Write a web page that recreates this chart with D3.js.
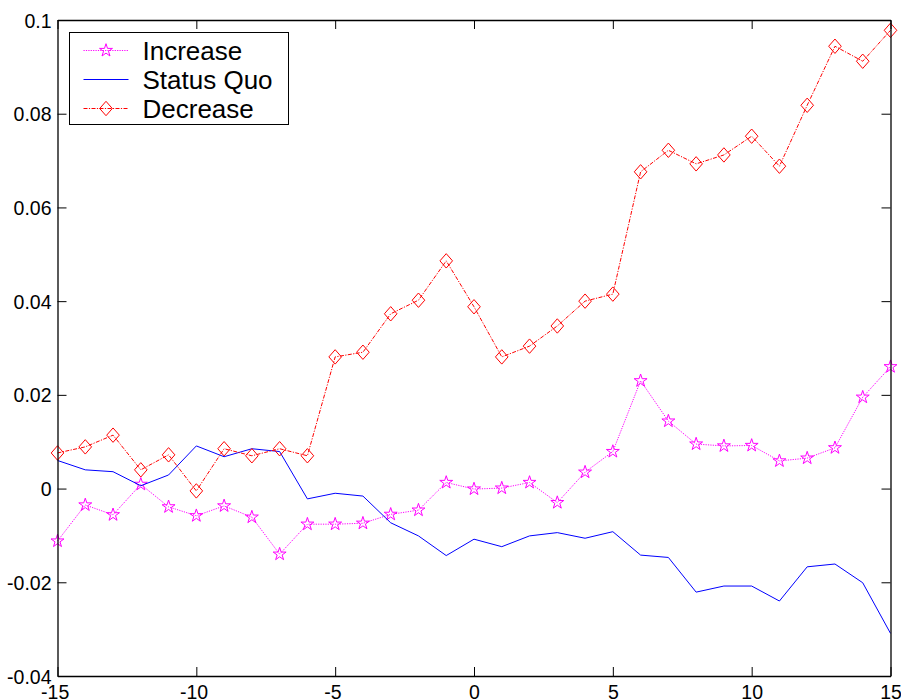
<!DOCTYPE html>
<html>
<head>
<meta charset="utf-8">
<script src="https://cdn.jsdelivr.net/npm/d3@7"></script>
<style>
  html, body { margin: 0; padding: 0; background: #fff; }
  svg { display: block; }
  text { font-family: "Liberation Sans", Arial, sans-serif; fill: #000; }
</style>
</head>
<body>
<svg id="chart" width="901" height="700"></svg>
<script>
// Event time (horizontal axis)
const lags = d3.range(-15, 16);

// Series values, one per lag
const increase = [
  -0.0112, -0.0035, -0.0056, 0.0009, -0.0039, -0.0058, -0.0037, -0.0061, -0.0140, -0.0076,
  -0.0076, -0.0074, -0.0055, -0.0046, 0.0013, -0.0001, 0.0001, 0.0013, -0.0030, 0.0035,
  0.0079, 0.0230, 0.0144, 0.0095, 0.0091, 0.0092, 0.0059, 0.0065, 0.0087, 0.0195, 0.0260
];
const statusQuo = [
  0.0060, 0.0040, 0.0036, 0.0006, 0.0029, 0.0091, 0.0068, 0.0085, 0.0079, -0.0022,
  -0.0010, -0.0016, -0.0073, -0.0101, -0.0143, -0.0108, -0.0124, -0.0101, -0.0094, -0.0106,
  -0.0092, -0.0142, -0.0147, -0.0221, -0.0208, -0.0208, -0.0240, -0.0167, -0.0161, -0.0201, -0.0309
];
const decrease = [
  0.0076, 0.0089, 0.0114, 0.0040, 0.0072, -0.0005, 0.0085, 0.0070, 0.0085, 0.0070,
  0.0281, 0.0291, 0.0373, 0.0402, 0.0486, 0.0388, 0.0281, 0.0304, 0.0347, 0.0400,
  0.0415, 0.0676, 0.0722, 0.0693, 0.0712, 0.0752, 0.0688, 0.0818, 0.0944, 0.0912, 0.0978
];

// Tick values and their labels
const xTicks = [-15, -10, -5, 0, 5, 10, 15];
const xTickLabels = ["-15", "-10", "-5", "0", "5", "10", "15"];
const yTicks = [-0.04, -0.02, 0, 0.02, 0.04, 0.06, 0.08, 0.1];
const yTickLabels = ["-0.04", "-0.02", "0", "0.02", "0.04", "0.06", "0.08", "0.1"];

const seriesNames = ["Increase", "Status Quo", "Decrease"];

const svg = d3.select("#chart");
const margin = { left: 57.5, right: 10.5, top: 20, bottom: 24 };
const W = 901, H = 700;
const x = d3.scaleLinear().domain([-15, 15]).range([margin.left, W - margin.right]);
const y = d3.scaleLinear().domain([-0.04, 0.1]).range([H - margin.bottom, margin.top]);

// Marker shapes
function pentagram(r) {
  const ri = r * 0.382;
  const pts = [];
  for (let i = 0; i < 10; i++) {
    const a = -Math.PI / 2 + i * Math.PI / 5;
    const rr = i % 2 === 0 ? r : ri;
    pts.push([rr * Math.cos(a), rr * Math.sin(a)]);
  }
  return "M" + pts.map(p => p[0].toFixed(2) + "," + p[1].toFixed(2)).join("L") + "Z";
}
function diamond(w, h) {
  return `M0,${-h}L${w},0L0,${h}L${-w},0Z`;
}

const styles = [
  { name: seriesNames[0], values: increase, color: "#ff00ff", dash: "1.2,1.2", marker: pentagram(6.8) },
  { name: seriesNames[1], values: statusQuo, color: "#0000ff", dash: null, marker: null },
  { name: seriesNames[2], values: decrease, color: "#ff0000", dash: "4,1.4,1.2,1.4", marker: diamond(6.3, 7.2) }
];

const line = d3.line().x((d, i) => x(lags[i])).y(d => y(d));

const plot = svg.append("g");
styles.forEach(s => {
  plot.append("path")
    .attr("d", line(s.values))
    .attr("fill", "none")
    .attr("stroke", s.color)
    .attr("stroke-width", 1)
    .attr("stroke-dasharray", s.dash);
  if (s.marker) {
    plot.selectAll(null).data(s.values).enter().append("path")
      .attr("d", s.marker)
      .attr("transform", (d, i) => `translate(${x(lags[i])},${y(d)})`)
      .attr("fill", "none")
      .attr("stroke", s.color)
      .attr("stroke-width", 1);
  }
});

// Axes: box with inward ticks on all four sides
const tickLen = 9;
const fontSize = "19.5px";
const axBottom = d3.axisBottom(x).tickValues(xTicks).tickSizeInner(-tickLen).tickSizeOuter(0).tickPadding(9.3)
  .tickFormat((d, i) => xTickLabels[i]);
const axTop = d3.axisTop(x).tickValues(xTicks).tickSizeInner(-tickLen).tickSizeOuter(0).tickFormat("");
const axLeft = d3.axisLeft(y).tickValues(yTicks).tickSizeInner(-tickLen).tickSizeOuter(0).tickPadding(6)
  .tickFormat((d, i) => yTickLabels[i]);
const axRight = d3.axisRight(y).tickValues(yTicks).tickSizeInner(-tickLen).tickSizeOuter(0).tickFormat("");

function styleAxis(g) {
  g.selectAll(".domain").attr("stroke", "#000").attr("stroke-width", 1.3);
  g.selectAll(".tick line").attr("stroke", "#000").attr("stroke-width", 1);
  g.selectAll(".tick text").style("font-family", "'Liberation Sans', Arial, sans-serif").style("font-size", fontSize).attr("fill", "#000");
}
const gx = svg.append("g").attr("transform", `translate(0,${H - margin.bottom})`).call(axBottom).call(styleAxis);
// negative labels sit a little left of their tick
gx.selectAll(".tick text").attr("dx", (d, i) => xTickLabels[i].startsWith("-") ? -2.8 : 0);
svg.append("g").attr("transform", `translate(0,${margin.top})`).call(axTop).call(styleAxis);
svg.append("g").attr("transform", `translate(${margin.left},0)`).call(axLeft).call(styleAxis)
  .selectAll(".tick text").attr("dy", "0.36em");
svg.append("g").attr("transform", `translate(${W - margin.right},0)`).call(axRight).call(styleAxis);

// Legend
const lg = svg.append("g").attr("transform", "translate(69.5,32.5)");
lg.append("rect").attr("width", 219).attr("height", 92).attr("fill", "#fff").attr("stroke", "#000").attr("stroke-width", 1);
styles.forEach((s, i) => {
  const yy = 18 + i * 29;
  lg.append("line").attr("x1", 14).attr("x2", 59).attr("y1", yy).attr("y2", yy)
    .attr("stroke", s.color).attr("stroke-width", 1).attr("stroke-dasharray", s.dash);
  if (s.marker) {
    lg.append("path").attr("d", s.marker).attr("transform", `translate(36.5,${yy})`)
      .attr("fill", "none").attr("stroke", s.color).attr("stroke-width", 1);
  }
  lg.append("text").attr("x", 73).attr("y", yy).attr("dy", "0.36em")
    .style("font-size", "26px").text(s.name);
});
</script>
</body>
</html>
